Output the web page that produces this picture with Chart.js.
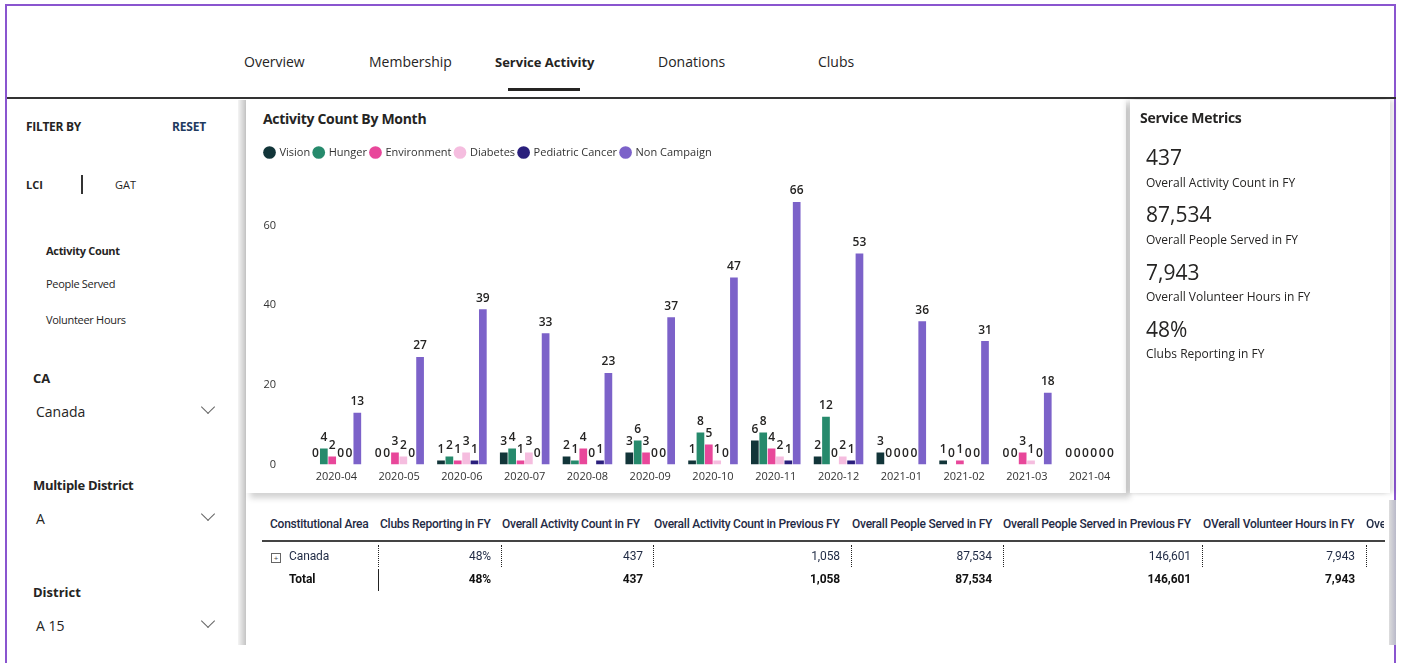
<!DOCTYPE html>
<html>
<head>
<meta charset="utf-8">
<script src="https://cdn.jsdelivr.net/npm/chart.js@4.4.1/dist/chart.umd.min.js"></script>
<style>
    html, body { margin: 0; padding: 0; background: #fff; }
    body { width: 1403px; height: 663px; position: relative; overflow: hidden; font-family: "Open Sans", "Noto Sans", sans-serif; color: #252423; }
    .frame { position: absolute; left: 5px; top: 4px; width: 1391px; height: 670px; border: 2px solid #8a55cf; box-sizing: border-box; }
    .abs { position: absolute; white-space: nowrap; }
    .tab { font-size: 14px; top: 52px; color: #252423; }
    .tab.active { font-weight: 700; font-size: 13px; top: 53px; }
    .underline { position: absolute; left: 508px; top: 88px; width: 72px; height: 3px; background: #252423; }
    .topline { position: absolute; left: 7px; top: 97px; width: 1389px; height: 2px; background: #333; }
    .side-shadow { position: absolute; left: 238px; top: 100px; width: 8px; height: 545px; background: linear-gradient(to right, #f4f4f4, #c4c4c4); }
    .card { position: absolute; background: #fff; }
    .lbl-b { font-weight: 700; }
    .chev { position: absolute; width: 9px; height: 9px; border-right: 1.3px solid #666; border-bottom: 1.3px solid #666; transform: rotate(45deg); }
    .metric-num { font-size: 21px; color: #252423; left: 1146px; }
    .metric-lbl { font-size: 12px; color: #252423; left: 1146px; }
    .th { font-family: Roboto, sans-serif; font-size: 12px; font-weight: 500; color: #1f2a44; top: 517px; letter-spacing: -0.25px; }
    .td { font-family: Roboto, sans-serif; font-size: 12px; color: #1f2a44; letter-spacing: -0.1px; text-align: right; }
    .tdb { font-weight: 700; color: #111; }
    .vdash { position: absolute; width: 0; border-left: 1.5px dotted #222; }
</style>
</head>
<body>
<div class="frame"></div>

<!-- top navigation -->
<div class="abs tab" style="left:244px;">Overview</div>
<div class="abs tab" style="left:369px;">Membership</div>
<div class="abs tab active" style="left:495px;">Service Activity</div>
<div class="abs tab" style="left:658px;">Donations</div>
<div class="abs tab" style="left:818px;">Clubs</div>
<div class="underline"></div>
<div class="topline"></div>

<!-- filter side panel -->
<div class="abs lbl-b" style="left:26px; top:118px; font-size:12px; letter-spacing:-0.3px;">FILTER BY</div>
<div class="abs lbl-b" style="left:172px; top:118px; font-size:12px; color:#1f3a5f; letter-spacing:-0.2px;">RESET</div>
<div class="abs lbl-b" style="left:26px; top:177px; font-size:11px;">LCI</div>
<div class="abs" style="left:81px; top:175px; width:2px; height:19px; background:#333;"></div>
<div class="abs" style="left:115px; top:177px; font-size:11px;">GAT</div>
<div class="abs lbl-b" style="left:46px; top:243px; font-size:11px; letter-spacing:-0.3px;">Activity Count</div>
<div class="abs" style="left:46px; top:276px; font-size:11px; letter-spacing:-0.3px;">People Served</div>
<div class="abs" style="left:46px; top:312px; font-size:11px; letter-spacing:-0.3px;">Volunteer Hours</div>
<div class="abs lbl-b" style="left:33px; top:369px; font-size:13px;">CA</div>
<div class="abs" style="left:36px; top:402px; font-size:14px;">Canada</div>
<div class="chev" style="left:203px; top:402px;"></div>
<div class="abs lbl-b" style="left:33px; top:476px; font-size:13px; letter-spacing:-0.3px;">Multiple District</div>
<div class="abs" style="left:36px; top:509px; font-size:14px;">A</div>
<div class="chev" style="left:203px; top:509px;"></div>
<div class="abs lbl-b" style="left:33px; top:583px; font-size:13px;">District</div>
<div class="abs" style="left:36px; top:616px; font-size:14px;">A 15</div>
<div class="chev" style="left:203px; top:616px;"></div>
<div class="side-shadow"></div>

<!-- chart card -->
<div class="card" style="left:246px; top:100px; width:880px; height:393px; box-shadow: 4px 5px 6px rgba(0,0,0,0.18);"></div>
<div class="abs lbl-b" style="left:263px; top:109px; font-size:14px; letter-spacing:-0.3px;">Activity Count By Month</div>
<div style="position:absolute; left:261px; top:143px; width:860px; height:357px;">
    <canvas id="activityChart"></canvas>
</div>

<!-- service metrics card -->
<div class="card" style="left:1130px; top:100px; width:260px; height:393px; box-shadow: -4px 0 5px rgba(0,0,0,0.12), 4px 0 5px rgba(0,0,0,0.12);"></div>
<div class="abs lbl-b" style="left:1140px; top:108px; font-size:14px; letter-spacing:-0.3px;">Service Metrics</div>
<div id="metrics"></div>

<!-- table -->
<div class="abs" style="left:1389px; top:500px; width:7px; height:145px; background:linear-gradient(to right,#ddd,#b9b9c9);"></div>
<div id="table"></div>
<div class="abs" style="left:262px; top:540px; width:1123px; height:2px; background:#444;"></div>

<script>
// Activity count by month, per campaign
const months = ['2020-04', '2020-05', '2020-06', '2020-07', '2020-08', '2020-09',
    '2020-10', '2020-11', '2020-12', '2021-01', '2021-02', '2021-03', '2021-04'];

const vision          = [0, 0, 1, 3, 2, 3, 1, 6, 2, 3, 1, 0, 0];
const hunger          = [4, 0, 2, 4, 1, 6, 8, 8, 12, 0, 0, 0, 0];
const environment     = [2, 3, 1, 1, 4, 3, 5, 4, 0, 0, 1, 3, 0];
const diabetes        = [0, 2, 3, 3, 0, 0, 1, 2, 2, 0, 0, 1, 0];
const pediatricCancer = [0, 0, 1, 0, 1, 0, 0, 1, 1, 0, 0, 0, 0];
const nonCampaign     = [13, 27, 39, 33, 23, 37, 47, 66, 53, 36, 31, 18, 0];

const yTicks = [0, 20, 40, 60];

// side card + table values
const metricValues = ['437', '87,534', '7,943', '48%'];
const metricLabels = ['Overall Activity Count in FY', 'Overall People Served in FY',
    'Overall Volunteer Hours in FY', 'Clubs Reporting in FY'];

const tableHeaders = ['Constitutional Area', 'Clubs Reporting in FY', 'Overall Activity Count in FY',
    'Overall Activity Count in Previous FY', 'Overall People Served in FY',
    'Overall People Served in Previous FY', 'OVerall Volunteer Hours in FY', 'Ove'];
const canadaRow = ['48%', '437', '1,058', '87,534', '146,601', '7,943'];
const totalRow  = ['48%', '437', '1,058', '87,534', '146,601', '7,943'];

function renderMetrics() {
    const box = document.getElementById('metrics');
    const numTops = [143, 200, 258, 315];
    const lblTops = [174, 231, 288, 345];
    let html = '';
    metricValues.forEach((v, i) => {
        html += `<div class="abs metric-num" style="top:${numTops[i]}px;">${v}</div>`;
        html += `<div class="abs metric-lbl" style="top:${lblTops[i]}px;">${metricLabels[i]}</div>`;
    });
    box.innerHTML = html;
}

function renderTable() {
    const box = document.getElementById('table');
    const headX = [270, 380, 502, 654, 852, 1003, 1203, 1366];
    const colRight = [491, 643, 840, 992, 1191, 1355];
    const dividers = [378, 501, 653, 851, 1003, 1202, 1366];
    let html = '';
    tableHeaders.forEach((h, i) => {
        const clip = i === tableHeaders.length - 1 ? 'width:18px; overflow:hidden;' : '';
        html += `<div class="abs th" style="left:${headX[i]}px; ${clip}">${h}</div>`;
    });
    // expand box + row labels
    html += `<div class="abs" style="left:271px; top:553px; width:8px; height:8px; border:1px solid #666; font-size:8px; line-height:8px; text-align:center; color:#444;">+</div>`;
    html += `<div class="abs td" style="left:289px; top:549px; text-align:left;">Canada</div>`;
    html += `<div class="abs td tdb" style="left:289px; top:572px; text-align:left;">Total</div>`;
    canadaRow.forEach((v, i) => {
        html += `<div class="abs td" style="left:${colRight[i] - 80}px; width:80px; top:549px;">${v}</div>`;
    });
    totalRow.forEach((v, i) => {
        html += `<div class="abs td tdb" style="left:${colRight[i] - 80}px; width:80px; top:572px;">${v}</div>`;
    });
    dividers.forEach(x => {
        html += `<div class="vdash" style="left:${x}px; top:545px; height:22px;"></div>`;
    });
    html += `<div class="vdash" style="left:378px; top:569px; height:22px; border-left-style:solid; border-left-width:1px;"></div>`;
    box.innerHTML = html;
}

// value labels above each bar
const barValueLabels = {
    id: 'barValueLabels',
    afterDatasetsDraw(chart) {
        const ctx = chart.ctx;
        ctx.save();
        ctx.font = '600 12px "Open Sans", sans-serif';
        ctx.fillStyle = '#252423';
        ctx.textAlign = 'center';
        ctx.textBaseline = 'bottom';
        chart.data.datasets.forEach((ds, di) => {
            const meta = chart.getDatasetMeta(di);
            meta.data.forEach((bar, i) => {
                ctx.fillText(String(ds.data[i]), bar.x, bar.y - 5);
            });
        });
        ctx.restore();
    }
};

// extra room between legend and plot
const legendGap = {
    id: 'legendGap',
    beforeInit(chart) {
        if (!chart.legend) return;
        const fit = chart.legend.fit;
        chart.legend.fit = function () {
            fit.call(this);
            this.height += 18;
        };
    }
};

function renderActivityChart() {
    const ctx = document.getElementById('activityChart');
    const series = [
        { label: 'Vision', data: vision, color: '#123539' },
        { label: 'Hunger', data: hunger, color: '#268a6c' },
        { label: 'Environment', data: environment, color: '#e8479a' },
        { label: 'Diabetes', data: diabetes, color: '#f5bddf' },
        { label: 'Pediatric Cancer', data: pediatricCancer, color: '#2a1f7c' },
        { label: 'Non Campaign', data: nonCampaign, color: '#7c62c9' }
    ];

    new Chart(ctx, {
        type: 'bar',
        data: {
            labels: months,
            datasets: series.map(s => ({
                label: s.label,
                data: s.data,
                backgroundColor: s.color,
                borderWidth: 0,
                categoryPercentage: 0.8,
                barPercentage: 0.92
            }))
        },
        options: {
            responsive: true,
            maintainAspectRatio: false,
            animation: false,
            layout: { autoPadding: false, padding: 0 },
            scales: {
                x: {
                    grid: { display: false, drawTicks: false },
                    border: { display: false },
                    ticks: { color: '#333', font: { size: 11, family: '"Open Sans", sans-serif' }, padding: 6, maxRotation: 0 }
                },
                y: {
                    min: 0,
                    max: 70,
                    grid: { display: false, drawTicks: false },
                    border: { display: false },
                    ticks: { color: '#333', font: { size: 11, family: '"Open Sans", sans-serif' }, padding: 29 },
                    afterBuildTicks: axis => {
                        axis.ticks = yTicks.map(v => ({ value: v }));
                    },
                    afterFit: axis => {
                        axis.width = 44;
                    }
                }
            },
            plugins: {
                legend: {
                    position: 'top',
                    align: 'start',
                    labels: {
                        usePointStyle: true,
                        pointStyle: 'circle',
                        boxWidth: 9,
                        boxHeight: 9,
                        padding: 4,
                        color: '#333',
                        font: { size: 11, family: '"Open Sans", sans-serif' }
                    }
                },
                tooltip: { enabled: false }
            }
        },
        plugins: [barValueLabels, legendGap]
    });
}

renderMetrics();
renderTable();
renderActivityChart();
</script>
</body>
</html>
